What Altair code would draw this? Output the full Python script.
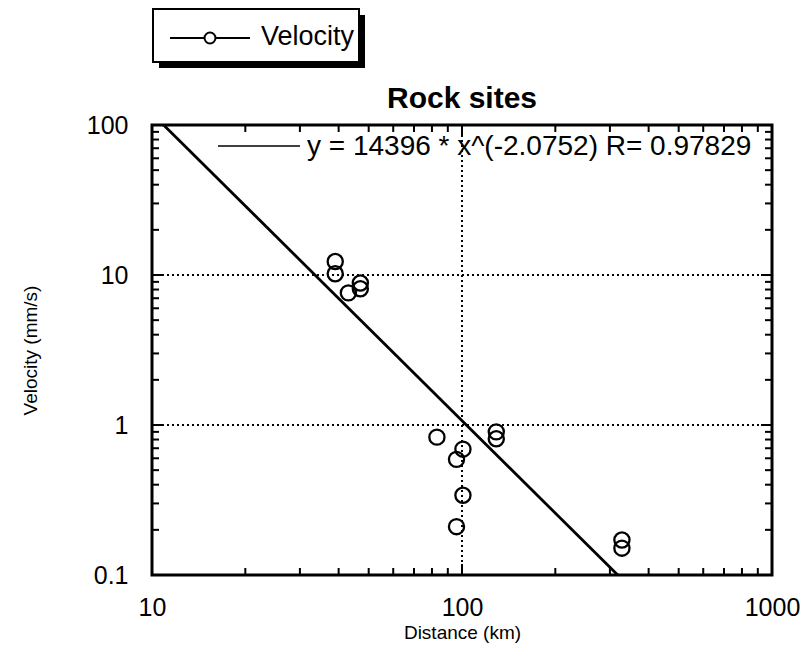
import altair as alt
import pandas as pd

# ---- data ----
distance_km = [39, 39, 43, 47, 47, 83, 96, 96, 100.7, 100.7, 129, 129, 328, 328]
velocity_mms = [12.3, 10.2, 7.6, 8.85, 8.1, 0.83, 0.59, 0.21, 0.69, 0.34, 0.90, 0.81, 0.171, 0.151]

fit_distance = [10.9, 318]
fit_velocity = [100, 0.1]
fit_label = "y = 14396 * x^(-2.0752) R= 0.97829"

x_label_values = [10, 100, 1000]
y_label_values = [0.1, 1, 10, 100]
x_grid_values = [100]
y_grid_values = [1, 10]
x_minor_ticks = [20, 30, 40, 50, 60, 70, 80, 90, 200, 300, 400, 500, 600, 700, 800, 900]
y_minor_ticks = [0.2, 0.3, 0.4, 0.5, 0.6, 0.7, 0.8, 0.9,
                 2, 3, 4, 5, 6, 7, 8, 9,
                 20, 30, 40, 50, 60, 70, 80, 90]
x_major_ticks = [100]
y_major_ticks = [1, 10]

W, H = 620, 450
FONT = "Liberation Sans"

xscale = alt.Scale(type="log", domain=[10, 1000], nice=False)
yscale = alt.Scale(type="log", domain=[0.1, 100], nice=False)

x_axis = alt.Axis(
    values=x_label_values, format="~g", ticks=False, domain=False, grid=False,
    labelFontSize=25, labelPadding=20, labelFont=FONT, labelColor="black",
    labelOverlap=False, labelFlush=False,
    title="Distance (km)", titleFont=FONT, titleFontSize=19,
    titleFontWeight="normal", titleColor="black", titlePadding=3)
y_axis = alt.Axis(
    values=y_label_values, format="~g", ticks=False, domain=False, grid=False,
    labelFontSize=25, labelPadding=24, labelFont=FONT, labelColor="black",
    labelOverlap=False, labelFlush=False,
    title="Velocity (mm/s)", titleFont=FONT, titleFontSize=19,
    titleFontWeight="normal", titleColor="black", titlePadding=46)


def X(field):
    return alt.X(field, scale=xscale, axis=x_axis)


def Y(field):
    return alt.Y(field, scale=yscale, axis=y_axis)


pts = pd.DataFrame({"d": distance_km, "v": velocity_mms})
fit = pd.DataFrame({"d": fit_distance, "v": fit_velocity})
one = pd.DataFrame({"a": [0]})

points = alt.Chart(pts).mark_point(
    shape="circle", filled=False, size=230, strokeWidth=2.3, color="black", opacity=1
).encode(x=X("d:Q"), y=Y("v:Q"))

fit_line = alt.Chart(fit).mark_line(color="black", strokeWidth=2.8).encode(
    x=X("d:Q"), y=Y("v:Q"))


def vgrid(vals):
    return alt.Chart(pd.DataFrame({"t": vals})).mark_rule(
        color="black", strokeWidth=2, strokeDash=[2, 3]
    ).encode(x=X("t:Q"), y=alt.value(0), y2=alt.value(H))


def hgrid(vals):
    return alt.Chart(pd.DataFrame({"t": vals})).mark_rule(
        color="black", strokeWidth=2, strokeDash=[2, 3]
    ).encode(y=Y("t:Q"), x=alt.value(0), x2=alt.value(W))


def xticks(vals, length):
    df = pd.DataFrame({"t": vals})
    bottom = alt.Chart(df).mark_rule(color="black", strokeWidth=2).encode(
        x=X("t:Q"), y=alt.value(H), y2=alt.value(H - length))
    top = alt.Chart(df).mark_rule(color="black", strokeWidth=2).encode(
        x=X("t:Q"), y=alt.value(0), y2=alt.value(length))
    return [bottom, top]


def yticks(vals, length):
    df = pd.DataFrame({"t": vals})
    left = alt.Chart(df).mark_rule(color="black", strokeWidth=2).encode(
        y=Y("t:Q"), x=alt.value(0), x2=alt.value(length))
    right = alt.Chart(df).mark_rule(color="black", strokeWidth=2).encode(
        y=Y("t:Q"), x=alt.value(W), x2=alt.value(W - length))
    return [left, right]


# chart title as text (kept clear of the legend box above the plot)
title_text = alt.Chart(one).mark_text(
    text="Rock sites", align="center", baseline="alphabetic", font=FONT,
    fontSize=30, fontWeight="bold", color="black"
).encode(x=alt.value(W / 2), y=alt.value(-17))

# fit legend inside the plot
fit_key_line = alt.Chart(one).mark_rule(color="black", strokeWidth=1.5).encode(
    x=alt.value(66), x2=alt.value(148), y=alt.value(21))
fit_key_text = alt.Chart(one).mark_text(
    text=fit_label, align="left", baseline="middle", font=FONT, fontSize=28, color="black"
).encode(x=alt.value(155), y=alt.value(22))

# "Velocity" legend box above the plot
shadow = alt.Chart(one).mark_rect(color="black").encode(
    x=alt.value(7), x2=alt.value(213), y=alt.value(-110), y2=alt.value(-57))
box = alt.Chart(one).mark_rect(fill="white", stroke="black", strokeWidth=2).encode(
    x=alt.value(1), x2=alt.value(207), y=alt.value(-116), y2=alt.value(-63))
key_l = alt.Chart(one).mark_rule(color="black", strokeWidth=2).encode(
    x=alt.value(18), x2=alt.value(52), y=alt.value(-87))
key_r = alt.Chart(one).mark_rule(color="black", strokeWidth=2).encode(
    x=alt.value(64), x2=alt.value(98), y=alt.value(-87))
key_pt = alt.Chart(one).mark_point(
    shape="circle", filled=False, size=120, strokeWidth=2, color="black", opacity=1
).encode(x=alt.value(58), y=alt.value(-87))
key_text = alt.Chart(one).mark_text(
    text="Velocity", align="left", baseline="middle", font=FONT, fontSize=27, color="black"
).encode(x=alt.value(109), y=alt.value(-88))

layers = [points, vgrid(x_grid_values), hgrid(y_grid_values)]
layers += xticks(x_minor_ticks, 7) + xticks(x_major_ticks, 11)
layers += yticks(y_minor_ticks, 7) + yticks(y_major_ticks, 11)
layers += [fit_line, fit_key_line, fit_key_text, title_text,
           shadow, box, key_l, key_r, key_pt, key_text]

chart = alt.layer(*layers).properties(
    width=W, height=H,
    autosize=alt.AutoSizeParams(type="none"),
    padding={"left": 152, "top": 125, "right": 34, "bottom": 71},
    background="white",
).configure_view(stroke="black", strokeWidth=3)

chart.save("out.html", embed_options={"renderer": "svg", "actions": False})
